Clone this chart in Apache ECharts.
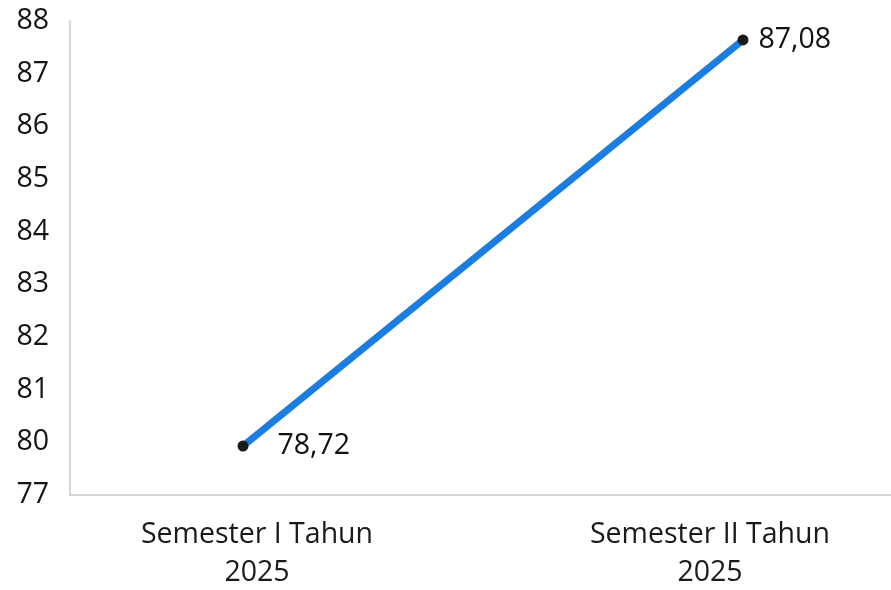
<!DOCTYPE html>
<html>
<head>
<meta charset="utf-8">
<style>
  html, body { margin: 0; padding: 0; background: #fff; }
  #chart { width: 891px; height: 590px; }
</style>
<script src="https://cdn.jsdelivr.net/npm/echarts@6/dist/echarts.min.js"></script>
</head>
<body>
<div id="chart"></div>
<script>
// kategori (sumbu x)
var categories = ['Semester I Tahun\n2025', 'Semester II Tahun\n2025'];
// posisi titik seperti terbaca dari gambar (sumbu y terputus: 77 lalu 80..88)
var plotValues = [79.93, 87.64];
// nilai yang ditulis pada label
var valueLabels = ['78,72', '87,08'];
// tick sumbu y dan labelnya
var yTicks = [79, 80, 81, 82, 83, 84, 85, 86, 87, 88];
var yTickLabels = ['77', '80', '81', '82', '83', '84', '85', '86', '87', '88'];

var myChart = echarts.init(document.getElementById('chart'));

var seriesData = [];
for (var i = 0; i < categories.length; i++) {
    seriesData.push({
        value: [i, plotValues[i]],
        label: { distance: i === 0 ? 29 : 10 }
    });
}

var font = '"Open Sans", sans-serif';

var option = {
    animation: false,
    grid: { left: 70, right: 0, top: 21, bottom: 95, outerBoundsMode: 'none', containLabel: false },
    xAxis: {
        type: 'value',
        min: -0.346,
        max: 1.296,
        splitLine: { show: false },
        axisLine: { show: true, onZero: false, lineStyle: { color: '#c8c8c8', width: 1.5 } },
        axisTick: { show: false },
        axisLabel: {
            customValues: [0, 1],
            margin: 21,
            hideOverlap: false,
            formatter: function (v) {
                var idx = Math.round(v);
                var style = idx === 0 ? 'a' : 'b';
                return categories[idx].split('\n').map(function (s) {
                    return '{' + style + '|' + s + '}';
                }).join('\n');
            },
            rich: {
                a: { fontFamily: font, fontSize: 28.5, lineHeight: 38, color: '#1a1a1a', padding: [0, 0, 0, 28] },
                b: { fontFamily: font, fontSize: 28.5, lineHeight: 38, color: '#1a1a1a', padding: [0, 66, 0, 0] }
            }
        }
    },
    yAxis: {
        type: 'value',
        min: 79,
        max: 88,
        splitLine: { show: false },
        axisLine: { show: true, onZero: false, lineStyle: { color: '#c8c8c8', width: 1.5 } },
        axisTick: { show: false },
        axisLabel: {
            customValues: yTicks,
            margin: 21,
            fontFamily: font,
            fontSize: 28.5,
            color: '#151515',
            formatter: function (v) {
                return yTickLabels[yTicks.indexOf(Math.round(v))];
            }
        }
    },
    series: [{
        type: 'line',
        data: seriesData,
        symbol: 'circle',
        symbolSize: 11,
        itemStyle: { color: '#1a1a1a' },
        lineStyle: { color: '#1c7de0', width: 7 },
        label: {
            show: true,
            position: 'right',
            fontFamily: font,
            fontSize: 28.5,
            color: '#111',
            formatter: function (p) {
                return valueLabels[p.dataIndex];
            }
        },
        z: 3
    }]
};

myChart.setOption(option);
</script>
</body>
</html>
